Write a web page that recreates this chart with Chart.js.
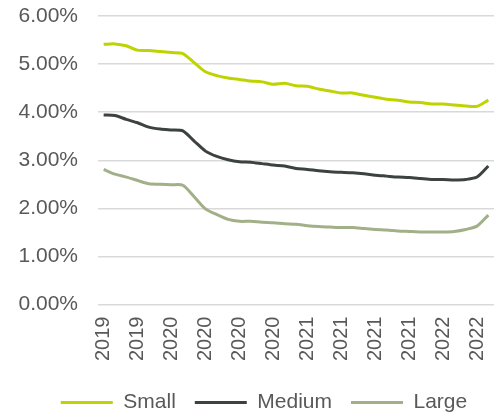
<!DOCTYPE html>
<html>
<head>
<meta charset="utf-8">
<style>
  html, body { margin: 0; padding: 0; background: #fff; }
  #wrap { width: 500px; height: 414px; }
</style>
<script src="https://cdn.jsdelivr.net/npm/chart.js@4/dist/chart.umd.min.js"></script>
</head>
<body>
<div id="wrap"><canvas id="myChart"></canvas></div>
<script>
// monthly, Jul 2019 - May 2022 (axis shows year only)
const months = [
  '2019', '2019', '2019', '2019', '2019', '2019',
  '2020', '2020', '2020', '2020', '2020', '2020', '2020', '2020', '2020', '2020', '2020', '2020',
  '2021', '2021', '2021', '2021', '2021', '2021', '2021', '2021', '2021', '2021', '2021', '2021',
  '2022', '2022', '2022', '2022', '2022'
];
const smallVals = [5.41, 5.42, 5.38, 5.29, 5.28, 5.26, 5.24, 5.22, 5.03, 4.84, 4.76, 4.71, 4.68, 4.65, 4.63, 4.58, 4.60, 4.55,
  4.54, 4.48, 4.44, 4.40, 4.40, 4.35, 4.31, 4.27, 4.25, 4.21, 4.20, 4.17, 4.17, 4.15, 4.13, 4.12, 4.25];
const mediumVals = [3.94, 3.93, 3.85, 3.78, 3.69, 3.65, 3.63, 3.61, 3.40, 3.19, 3.08, 3.01, 2.97, 2.96, 2.93, 2.90, 2.88, 2.83,
  2.81, 2.78, 2.76, 2.75, 2.74, 2.72, 2.69, 2.67, 2.65, 2.64, 2.62, 2.60, 2.60, 2.59, 2.60, 2.65, 2.88];
const largeVals = [2.81, 2.71, 2.65, 2.58, 2.51, 2.50, 2.49, 2.48, 2.24, 1.99, 1.87, 1.77, 1.73, 1.73, 1.71, 1.70, 1.68, 1.67,
  1.64, 1.62, 1.61, 1.60, 1.60, 1.58, 1.56, 1.55, 1.53, 1.52, 1.51, 1.51, 1.51, 1.52, 1.56, 1.63, 1.86];
const yTicks = [0, 1, 2, 3, 4, 5, 6];

const textColor = '#595959';
const fontFamily = "'Liberation Sans', Arial, sans-serif";

function line(label, data, color) {
  return {
    label: label,
    data: data,
    borderColor: color,
    backgroundColor: color,
    borderWidth: 3,
    pointRadius: 0,
    tension: 0.25,
    fill: false
  };
}

// legend sits a little right of centre in the original
const legendShift = {
  id: 'legendShift',
  afterLayout(chart) {
    chart.legend.left += 17;
    chart.legend.right += 17;
  }
};

const ctx = document.getElementById('myChart').getContext('2d');
const myChart = new Chart(ctx, {
  type: 'line',
  data: {
    labels: months,
    datasets: [
      line('Small', smallVals, '#bed300'),
      line('Medium', mediumVals, '#3c4240'),
      line('Large', largeVals, '#a2b088')
    ]
  },
  options: {
    responsive: true,
    maintainAspectRatio: false,
    animation: false,
    layout: { padding: { left: 0, right: 6, top: 16, bottom: -9 } },
    plugins: {
      tooltip: { enabled: false },
      legend: {
        display: true,
        position: 'bottom',
        labels: {
          color: textColor,
          font: { size: 21, family: fontFamily },
          usePointStyle: true,
          pointStyle: 'line',
          pointStyleWidth: 52,
          padding: 19
        }
      }
    },
    scales: {
      x: {
        offset: true,
        afterFit: function (scale) { scale.paddingLeft = 0; scale.paddingRight = 0; },
        grid: { display: false, drawTicks: false },
        border: { display: false },
        ticks: {
          color: textColor,
          font: { size: 20, family: fontFamily },
          autoSkip: false,
          minRotation: 90,
          maxRotation: 90,
          padding: 12,
          callback: function (v, i) { return i % 3 === 0 ? months[i] : null; }
        }
      },
      y: {
        min: 0,
        max: 6,
        afterBuildTicks: function (scale) { scale.ticks = yTicks.map(v => ({ value: v })); },
        afterFit: function (scale) { scale.width = 98; scale.paddingTop = 0; scale.paddingBottom = 0; },
        grid: { color: '#d9d9d9', lineWidth: 1.5, drawTicks: false },
        border: { display: false },
        ticks: {
          color: textColor,
          font: { size: 21, family: fontFamily },
          padding: 20,
          callback: function (v) { return v.toFixed(2) + '%'; }
        }
      }
    }
  },
  plugins: [legendShift]
});
</script>
</body>
</html>
